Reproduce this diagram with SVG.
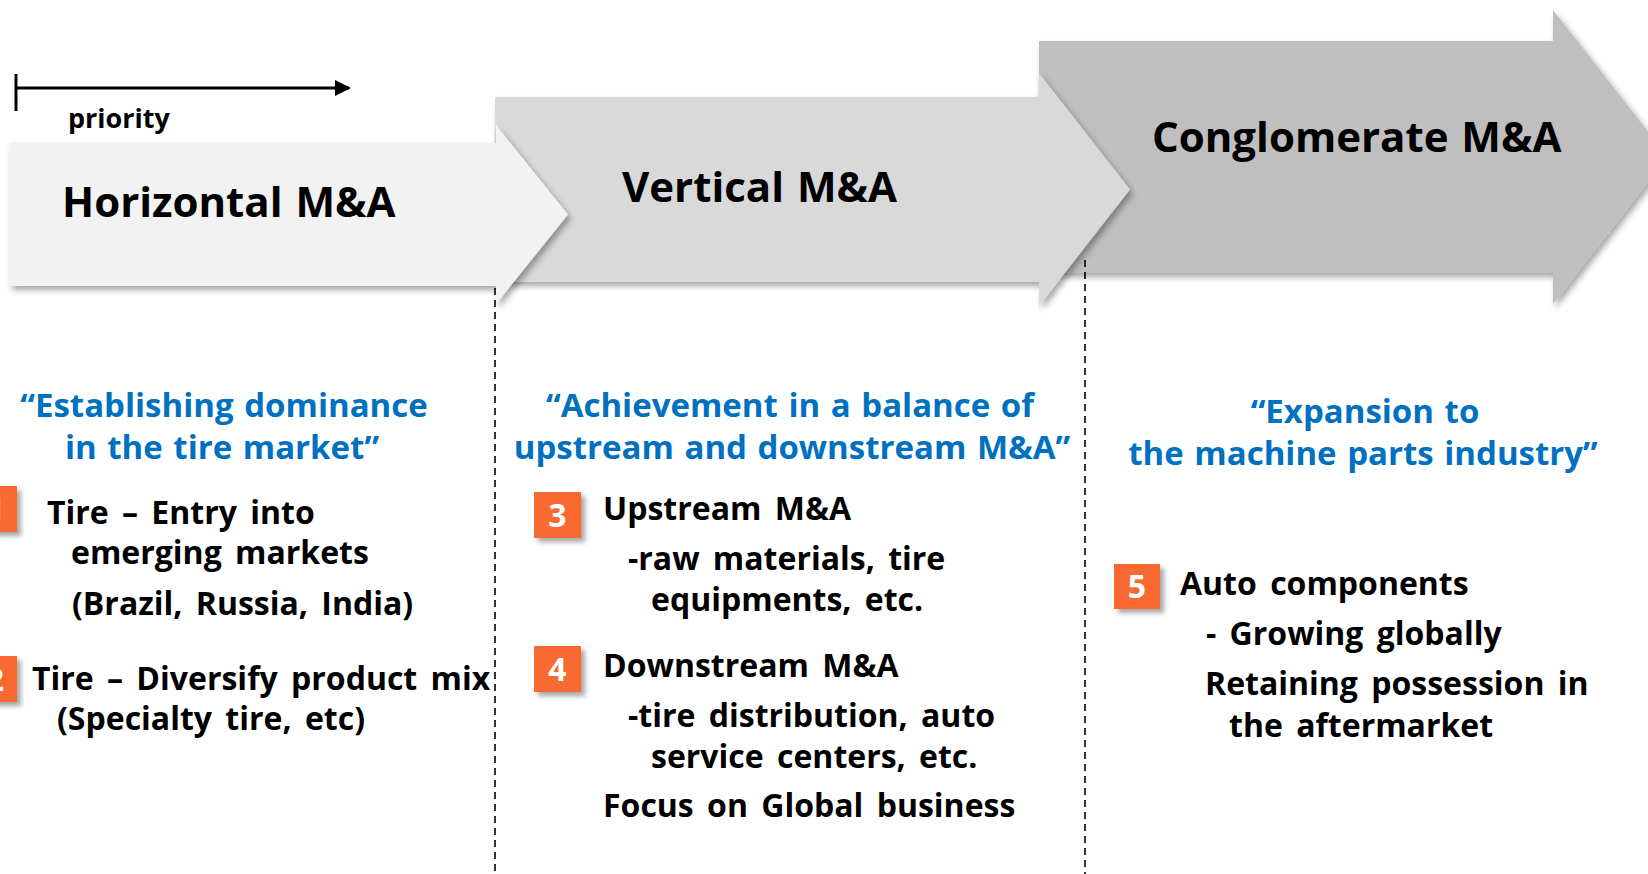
<svg xmlns="http://www.w3.org/2000/svg" width="1648" height="874" viewBox="0 0 1648 874">
<defs>
<style>
text{font-family:"Open Sans","Noto Sans","Liberation Sans",sans-serif;font-weight:700}
.title{font-size:42px;fill:#000;word-spacing:2px}
.quote{font-size:33px;fill:#0070C0;text-anchor:middle;word-spacing:2px}
.body{font-size:32px;fill:#000;word-spacing:5px}
.num{font-size:32px;fill:#fff;text-anchor:middle}
.badge{fill:#F96A32}
.dash{stroke:#000;stroke-width:1.6;stroke-dasharray:7,5;fill:none}
</style>
<filter id="sh" x="-5%" y="-10%" width="115%" height="130%">
<feDropShadow dx="3" dy="4" stdDeviation="3" flood-color="#000" flood-opacity="0.35"/>
</filter>
<filter id="bsh" x="-20%" y="-20%" width="150%" height="150%">
<feDropShadow dx="4" dy="4" stdDeviation="2.5" flood-color="#000" flood-opacity="0.35"/>
</filter>
<marker id="ah" markerWidth="16" markerHeight="16" refX="14" refY="8" orient="auto" markerUnits="userSpaceOnUse">
<path d="M0,0 L16,8 L0,16 Z" fill="#000"/>
</marker>
</defs>
<rect width="1648" height="874" fill="#fff"/>

<g id="arrow-conglomerate">
<path d="M1039,41 H1553 V10 L1668,157 L1553,304 V273 H1039 Z" fill="#BFBFBF" filter="url(#sh)"/>
<text class="title" x="1152" y="152">Conglomerate M&amp;A</text>
</g>
<g id="arrow-vertical">
<path d="M495,97 H1039 V73 L1130,189.5 L1039,306 V282 H495 Z" fill="#D9D9D9" filter="url(#sh)"/>
<text class="title" x="622" y="202">Vertical M&amp;A</text>
</g>
<g id="arrow-horizontal">
<path d="M9,143 H496 V125 L568,214.5 L496,304 V286 H9 Z" fill="#F2F2F2" filter="url(#sh)"/>
<text class="title" x="62" y="217">Horizontal M&amp;A</text>
</g>

<g id="connectors">
<line x1="16" y1="74" x2="16" y2="111" stroke="#000" stroke-width="3"/>
<line x1="16" y1="88" x2="349" y2="88" stroke="#000" stroke-width="3" marker-end="url(#ah)"/>
<line class="dash" x1="495" y1="288" x2="495" y2="874"/>
<line class="dash" x1="1085" y1="260" x2="1085" y2="874"/>
</g>

<g id="priority-label">
<text x="68" y="128" font-size="27" fill="#000">priority</text>
</g>

<g id="col-horizontal">
<text class="quote" x="224" y="417">“Establishing dominance</text>
<text class="quote" x="222" y="459">in the tire market”</text>
<g id="badge-1">
<rect class="badge" x="-30" y="486" width="47" height="46" filter="url(#bsh)"/>
<text class="num" x="-4" y="521">1</text>
</g>
<text class="body" x="47" y="524">Tire – Entry into</text>
<text class="body" x="71" y="564">emerging markets</text>
<text class="body" x="72" y="615">(Brazil, Russia, India)</text>
<g id="badge-2">
<rect class="badge" x="-30" y="656" width="47" height="46" filter="url(#bsh)"/>
<text class="num" x="-5" y="691">2</text>
</g>
<text class="body" x="32" y="690">Tire – Diversify product mix</text>
<text class="body" x="57" y="730">(Specialty tire, etc)</text>
</g>

<g id="col-vertical">
<text class="quote" x="790" y="417">“Achievement in a balance of</text>
<text class="quote" x="792" y="459">upstream and downstream M&amp;A”</text>
<g id="badge-3">
<rect class="badge" x="534" y="492" width="47" height="46" filter="url(#bsh)"/>
<text class="num" x="557.5" y="527">3</text>
</g>
<text class="body" x="603" y="520">Upstream M&amp;A</text>
<text class="body" x="628" y="570">-raw materials, tire</text>
<text class="body" x="651" y="611">equipments, etc.</text>
<g id="badge-4">
<rect class="badge" x="534" y="646" width="47" height="46" filter="url(#bsh)"/>
<text class="num" x="557.5" y="681">4</text>
</g>
<text class="body" x="603" y="677">Downstream M&amp;A</text>
<text class="body" x="628" y="727">-tire distribution, auto</text>
<text class="body" x="651" y="768">service centers, etc.</text>
<text class="body" x="603" y="817">Focus on Global business</text>
</g>

<g id="col-conglomerate">
<text class="quote" x="1365" y="423">“Expansion to</text>
<text class="quote" x="1363" y="465">the machine parts industry”</text>
<g id="badge-5">
<rect class="badge" x="1114" y="564" width="46" height="45" filter="url(#bsh)"/>
<text class="num" x="1137" y="598">5</text>
</g>
<text class="body" x="1180" y="595">Auto components</text>
<text class="body" x="1206" y="645">- Growing globally</text>
<text class="body" x="1205" y="695">Retaining possession in</text>
<text class="body" x="1229" y="737">the aftermarket</text>
</g>
</svg>
